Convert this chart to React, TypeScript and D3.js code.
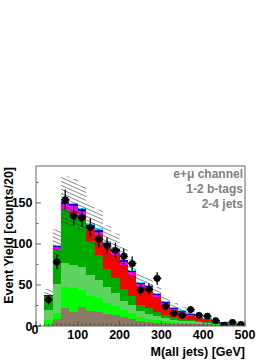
import React from "react";
import * as d3 from "d3";

const binStart = [20,40,60,80,100,120,140,160,180,200,220,240,260,280,300,320,340,360,380,400,420,440,460,480];
const brown =       [1, 8, 22, 17, 23, 18, 17, 15, 13, 11, 9, 6, 5, 4, 3.5, 3, 2.5, 2.5, 2, 2, 1.5, 1, 0.8, 0.5];
const brightGreen = [6, 8, 25, 29, 21, 18, 17, 13, 11, 8, 6, 5, 4, 3, 2, 1.5, 1.5, 1, 1, 0.7, 0.5, 0.4, 0.3, 0.2];
const lightGreen =  [12, 35, 30, 28, 28, 26, 22, 20, 16, 12, 10, 7, 6, 5, 4, 3, 2.5, 2, 1.5, 1.2, 1, 0.7, 0.5, 0.3];
const darkGreen =   [17, 42.5, 65, 63, 58, 42, 31, 22, 19, 14, 11, 8, 7, 5, 4, 3, 2.5, 2, 1.5, 1, 0.7, 0.5, 0.3, 0.2];
const red =         [0, 0.5, 0.5, 3, 5, 13, 24, 25, 28, 29, 26, 22, 22, 18, 12, 9, 7, 5, 3.5, 2.5, 1.5, 1, 0.6, 0.4];
const magenta =     [1, 2.5, 6, 6, 5, 4, 4, 4, 4, 4, 3.5, 3, 3, 2.5, 2, 1.5, 1.5, 1.5, 1.2, 1, 0.6, 0.5, 0.3, 0.2];
const blue =        [0.5, 1.5, 3, 3, 2.5, 2.5, 2.5, 2.5, 2.5, 2, 1.5, 1.5, 1.5, 1.5, 1.5, 1.5, 1, 1, 0.8, 0.6, 0.4, 0.3, 0.2, 0.1];
const cyan =        [0.5, 1, 1.5, 1.5, 1.5, 1.5, 1.5, 1.5, 1.2, 1, 1, 1, 1, 1, 1, 1, 0.8, 0.6, 0.5, 0.4, 0.3, 0.2, 0.2, 0.1];
const dataCounts =  [32, 78, 154, 134, 132, 120, 106, 98, 92, 85, 76, 44, 45, 58, 24, 15.5, 13, 20, 13, 12, 6.5, 1, 4.5, 2];

const layerNames = ["brown", "brightGreen", "lightGreen", "darkGreen", "red", "magenta", "blue", "cyan"];
const layerValues = [brown, brightGreen, lightGreen, darkGreen, red, magenta, blue, cyan];
const layerColors = ["#8c7868", "#00ff00", "#5fd35f", "#00aa00", "#ff0000", "#ff00ff", "#0000ff", "#00ffff"];

const xTicks = [0, 100, 200, 300, 400, 500];
const yTicks = [0, 50, 100, 150];
const legendLines = ["e+\u03bc channel", "1-2 b-tags", "2-4 jets"];

const BIN = 20;
const UNC = 0.19;

export default function App() {
  const W = 279, H = 361;
  const L = 36, R = 245, T = 166, B = 326;
  const x = d3.scaleLinear().domain([0, 500]).range([L, R]);
  const y = d3.scaleLinear().domain([0, 195]).range([B, T]);

  const rows = binStart.map((s, i) => {
    const r: any = { s };
    layerNames.forEach((n, k) => (r[n] = layerValues[k][i]));
    return r;
  });
  const stack = d3.stack().keys(layerNames)(rows as any);
  const totals = rows.map((_, i) => layerValues.reduce((a, v) => a + v[i], 0));

  const font = "'Liberation Sans', Arial, Helvetica, sans-serif";

  const band = totals
    .map((t, i) => {
      const x0 = x(binStart[i]), x1 = x(binStart[i] + BIN);
      const yHi = y(Math.min(t * (1 + UNC), 195)), yLo = y(t * (1 - UNC));
      return `M${x0},${yHi}H${x1}V${yLo}H${x0}Z`;
    })
    .join("");

  const xMinor = d3.range(0, 501, 10);
  const yMinor = d3.range(0, 195, 25);

  return (
    <svg width={W} height={H} style={{ position: "absolute", left: 0, top: 0, background: "#fff" }}>
      <defs>
        <pattern id="hatch" patternUnits="userSpaceOnUse" width="10" height="3.6" patternTransform="rotate(24)">
          <line x1="0" y1="0.5" x2="10" y2="0.5" stroke="#333" strokeWidth="0.6" />
        </pattern>
        <clipPath id="plotClip">
          <rect x={L} y={T} width={R - L} height={B - T} />
        </clipPath>
      </defs>

      <g clipPath="url(#plotClip)">
        {stack.map((layer, k) => (
          <g key={layerNames[k]} fill={layerColors[k]}>
            {layer.map((d, i) => (
              <rect
                key={i}
                x={x(binStart[i])}
                width={x(binStart[i] + BIN) - x(binStart[i])}
                y={y(d[1])}
                height={Math.max(0, y(d[0]) - y(d[1]))}
                shapeRendering="crispEdges"
              />
            ))}
          </g>
        ))}
        <path d={band} fill="url(#hatch)" />

        {dataCounts.map((v, i) => {
          const cx = x(binStart[i] + BIN / 2);
          const err = Math.sqrt(Math.max(v, 0));
          return (
            <g key={i}>
              <line x1={cx} x2={cx} y1={y(v + err)} y2={y(Math.max(0, v - err))} stroke="#000" strokeWidth={1.3} />
              <line x1={x(binStart[i])} x2={x(binStart[i] + BIN)} y1={y(v)} y2={y(v)} stroke="#000" strokeWidth={1.3} />
              <circle cx={cx} cy={y(v)} r={3.4} fill="#000" />
            </g>
          );
        })}
      </g>

      {/* frame */}
      <rect x={L} y={T} width={R - L} height={B - T} fill="none" stroke="#666" strokeWidth={1} />

      {xMinor.map((t) => (
        <line key={"xm" + t} x1={x(t)} x2={x(t)} y1={B} y2={B - (t % 100 === 0 ? 5 : 2.5)} stroke="#444" strokeWidth={0.8} />
      ))}
      {yMinor.map((t) => (
        <line key={"ym" + t} x1={L} x2={L + (t % 50 === 0 ? 5 : 2.5)} y1={y(t)} y2={y(t)} stroke="#444" strokeWidth={0.8} />
      ))}

      {xTicks.map((t) => (
        <text
          key={"xl" + t}
          x={t === 0 ? x(t) - 1 : x(t)}
          y={t === 0 ? 334 : 339}
          textAnchor="middle"
          fontFamily={font}
          fontWeight="bold"
          fontSize={12.5}
          fill="#000"
        >
          {t}
        </text>
      ))}
      {yTicks.map((t) => (
        <text
          key={"yl" + t}
          x={32.5}
          y={y(t) + 4.5}
          textAnchor="end"
          fontFamily={font}
          fontWeight="bold"
          fontSize={12.5}
          fill="#000"
        >
          {t}
        </text>
      ))}

      <text x={R} y={356} textAnchor="end" fontFamily={font} fontWeight="bold" fontSize={12.5} fill="#000">
        M(all jets) [GeV]
      </text>
      <text
        transform={`translate(12.5, ${T + 1}) rotate(-90)`}
        textAnchor="end"
        fontFamily={font}
        fontWeight="bold"
        fontSize={12.5}
        fill="#000"
      >
        Event Yield [counts/20]
      </text>

      {legendLines.map((s, i) => (
        <text
          key={s}
          x={243}
          y={178 + i * 15}
          textAnchor="end"
          fontFamily={font}
          fontWeight="bold"
          fontSize={12}
          fill="#7f7f7f"
        >
          {s}
        </text>
      ))}
    </svg>
  );
}
